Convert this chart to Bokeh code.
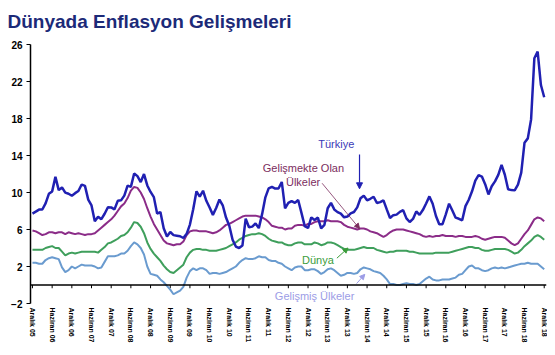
from bokeh.plotting import figure
from bokeh.models import (FixedTicker, Span, Label, Arrow, NormalHead, ColumnDataSource)
from bokeh.embed import file_html
from bokeh.resources import INLINE

# Month index 0 = Aralık 2005 ... 156 = Aralık 2018
tick_labels = ["Aralık 05", "Haziran 06", "Aralık 06", "Haziran 07", "Aralık 07",
               "Haziran 08", "Aralık 08", "Haziran 09", "Aralık 09", "Haziran 10",
               "Aralık 10", "Haziran 11", "Aralık 11", "Haziran 12", "Aralık 12",
               "Haziran 13", "Aralık 13", "Haziran 14", "Aralık 14", "Haziran 15",
               "Aralık 15", "Haziran 16", "Aralık 16", "Haziran 17", "Aralık 17",
               "Haziran 18", "Aralık 18"]
y_ticks = [-2, 2, 6, 10, 14, 18, 22, 26]

turkiye = [7.72,
    7.93, 8.15, 8.16, 8.83, 9.86, 10.12, 11.69, 10.26, 10.55, 9.98, 9.86, 9.65,
    9.93, 10.16, 10.86, 10.72, 9.23, 8.60, 6.90, 7.39, 7.12, 7.70, 8.40, 8.39,
    8.17, 9.10, 9.15, 9.66, 10.74, 10.61, 12.06, 11.77, 11.13, 11.99, 10.76, 10.06,
    9.50, 7.73, 7.89, 6.13, 5.24, 5.73, 5.39, 5.33, 5.27, 5.08, 5.53, 6.53,
    8.19, 10.13, 9.56, 10.19, 9.10, 8.37, 7.58, 8.33, 9.24, 8.62, 7.29, 6.40,
    4.90, 4.16, 3.99, 4.26, 7.17, 6.24, 6.31, 6.65, 6.15, 7.66, 9.48, 10.45,
    10.61, 10.43, 10.43, 11.14, 8.28, 8.87, 9.07, 8.88, 9.19, 7.80, 6.37, 6.16,
    7.31, 7.03, 7.29, 6.13, 6.51, 8.30, 8.88, 8.17, 7.88, 7.71, 7.32, 7.40,
    7.75, 7.89, 8.39, 9.38, 9.66, 9.16, 9.32, 9.54, 8.86, 8.96, 9.15, 8.17,
    7.24, 7.55, 7.61, 7.91, 8.09, 7.20, 6.81, 7.14, 7.95, 7.58, 8.10, 8.81,
    9.58, 8.78, 7.46, 6.57, 6.58, 7.64, 8.79, 8.05, 7.28, 7.16, 7.00, 8.53,
    9.22, 10.13, 11.29, 11.87, 11.72, 10.90, 9.79, 10.68, 11.20, 11.90, 12.98, 11.92,
    10.35, 10.26, 10.23, 10.85, 12.15, 15.39, 15.85, 17.90, 24.52, 25.24, 21.62, 20.30]

gelismekte = [5.9,
    5.8, 5.6, 5.4, 5.5, 5.7, 5.7, 5.6, 5.7, 5.7, 5.5, 5.7, 5.6,
    5.5, 5.6, 5.5, 5.4, 5.5, 5.5, 5.6, 5.9, 6.2, 6.5, 6.8, 7.1,
    7.5, 8.0, 8.5, 8.8, 9.4, 10.2, 10.6, 10.5, 10.0, 9.3, 8.3, 7.4,
    6.6, 6.0, 5.4, 4.8, 4.5, 4.4, 4.3, 4.4, 4.4, 4.7, 5.4, 5.8,
    5.9, 5.9, 5.8, 5.8, 5.8, 5.7, 5.6, 5.7, 5.9, 6.2, 6.5, 6.6,
    6.8, 7.0, 7.2, 7.4, 7.5, 7.5, 7.5, 7.5, 7.4, 7.3, 7.1, 6.8,
    6.4, 6.3, 6.2, 6.2, 6.0, 6.1, 6.1, 6.4, 6.5, 6.5, 6.4, 6.6,
    6.6, 6.8, 6.9, 6.9, 6.9, 7.0, 6.9, 6.9, 6.9, 6.8, 6.5, 6.3,
    6.2, 6.1, 6.0, 6.1, 6.1, 6.0, 5.8, 5.7, 5.6, 5.4, 5.2, 5.4,
    5.7, 5.9, 6.0, 6.0, 6.0, 5.9, 5.8, 5.7, 5.6, 5.5, 5.3, 5.2,
    5.3, 5.2, 5.3, 5.3, 5.4, 5.3, 5.3, 5.3, 5.2, 5.3, 5.3, 5.2,
    5.2, 5.2, 5.3, 5.2, 5.0, 4.9, 5.0, 5.1, 5.2, 5.2, 5.2, 5.1,
    4.8, 4.5, 4.3, 4.5, 5.0, 5.5, 5.9, 6.5, 7.1, 7.3, 7.2, 6.9]

dunya = [3.8,
    3.8, 3.8, 3.8, 4.0, 4.1, 4.2, 4.0, 4.0, 3.6, 3.2, 3.4, 3.5,
    3.4, 3.5, 3.6, 3.6, 3.6, 3.6, 3.6, 3.5, 3.8, 4.1, 4.5, 4.6,
    4.8, 5.0, 5.3, 5.4, 5.7, 6.2, 6.8, 6.7, 6.3, 5.6, 4.6, 3.9,
    3.4, 3.0, 2.6, 2.1, 1.7, 1.4, 1.3, 1.6, 1.9, 2.2, 3.0, 3.5,
    3.8, 3.9, 3.9, 3.8, 3.8, 3.7, 3.7, 3.7, 3.8, 3.9, 4.0, 4.2,
    4.4, 4.6, 4.9, 5.1, 5.3, 5.4, 5.5, 5.5, 5.6, 5.5, 5.3, 5.0,
    4.8, 4.7, 4.6, 4.6, 4.4, 4.3, 4.3, 4.5, 4.6, 4.6, 4.4, 4.4,
    4.4, 4.6, 4.5, 4.3, 4.4, 4.6, 4.6, 4.5, 4.3, 4.1, 3.9, 3.8,
    3.8, 3.8, 3.9, 4.0, 4.1, 4.0, 4.0, 4.0, 3.8, 3.7, 3.6, 3.5,
    3.6, 3.6, 3.7, 3.7, 3.7, 3.7, 3.6, 3.6, 3.5, 3.4, 3.4, 3.4,
    3.4, 3.4, 3.5, 3.5, 3.5, 3.5, 3.5, 3.6, 3.7, 3.8, 3.9, 4.0,
    4.1, 4.1, 4.0, 4.0, 3.8, 3.7, 3.7, 3.8, 3.9, 3.9, 3.9, 3.9,
    3.8, 3.6, 3.4, 3.5, 3.8, 4.2, 4.5, 4.8, 5.2, 5.4, 5.2, 4.9]

gelismis = [2.4,
    2.4, 2.3, 2.3, 2.7, 2.9, 3.0, 2.9, 2.8, 1.9, 1.4, 1.6, 2.0,
    1.8, 2.0, 2.2, 2.1, 2.1, 2.1, 2.0, 1.8, 1.9, 2.5, 3.1, 3.1,
    3.1, 3.2, 3.4, 3.4, 3.7, 4.2, 4.6, 4.4, 4.0, 3.3, 2.0, 1.2,
    1.1, 1.0, 0.6, 0.3, -0.1, -0.5, -1.0, -0.8, -0.6, -0.2, 0.8, 1.5,
    1.8, 1.6, 1.8, 1.8, 1.6, 1.2, 1.3, 1.3, 1.2, 1.3, 1.4, 1.6,
    1.8, 2.0, 2.4, 2.7, 2.9, 2.8, 2.8, 2.9, 3.1, 3.0, 3.0, 2.7,
    2.6, 2.6, 2.4, 2.3, 2.0, 1.8, 1.6, 1.9, 2.0, 2.0, 1.6, 1.6,
    1.7, 1.7, 1.5, 1.2, 1.4, 1.7, 1.8, 1.6, 1.3, 1.0, 1.1, 1.3,
    1.3, 1.2, 1.3, 1.7, 1.9, 1.8, 1.7, 1.5, 1.4, 1.3, 1.0, 0.6,
    0.1, 0.1, 0.0, 0.0, 0.1, 0.2, 0.1, 0.1, 0.0, 0.1, 0.4, 0.7,
    0.9, 0.6, 0.5, 0.5, 0.6, 0.6, 0.6, 0.7, 0.8, 1.1, 1.2, 1.6,
    2.0, 2.1, 1.8, 1.8, 1.6, 1.5, 1.6, 1.8, 1.9, 1.8, 1.9, 1.8,
    1.9, 2.0, 2.1, 2.2, 2.3, 2.3, 2.4, 2.3, 2.3, 2.3, 2.0, 1.7]

months = list(range(len(turkiye)))
tick_pos = [6 * i for i in range(len(tick_labels))]

FONT = "Liberation Sans"

p = figure(width=547, height=345, output_backend="svg", toolbar_location=None,
           x_range=(-0.6, 156.7), y_range=(-2, 26),
           min_border_left=30, min_border_right=1, min_border_bottom=42,
           min_border_top=0)
p.outline_line_color = None
p.grid.visible = False
p.background_fill_color = "white"
p.border_fill_color = "white"

# title: anchored at the top of its panel; the standoff sets the frame's top
p.title.text = "Dünyada Enflasyon Gelişmeleri"
p.title.text_font = FONT
p.title.text_font_size = "19px"
p.title.text_font_style = "bold"
p.title.text_color = "#1c2a78"
p.title.align = "left"
p.title.offset = -23
p.title.vertical_align = "top"
p.title.standoff = 21

# y axis
p.yaxis.ticker = FixedTicker(ticks=y_ticks)
p.yaxis.bounds = (y_ticks[0], y_ticks[-1])
p.yaxis.major_label_text_font = FONT
p.yaxis.major_label_text_font_size = "10px"
p.yaxis.major_label_text_font_style = "bold"
p.yaxis.major_label_text_color = "black"
p.yaxis.axis_line_color = "black"
p.yaxis.axis_line_width = 1.5
p.yaxis.major_tick_line_color = "black"
p.yaxis.major_tick_out = 4
p.yaxis.major_tick_in = 0
p.yaxis.minor_tick_line_color = None
p.yaxis.major_label_standoff = 4

# x axis (labels only; the line is drawn at zero)
p.xaxis.ticker = FixedTicker(ticks=tick_pos)
p.xaxis.major_label_overrides = {t: lab for t, lab in zip(tick_pos, tick_labels)}
p.xaxis.major_label_orientation = "vertical"
p.xaxis.major_label_text_font = FONT
p.xaxis.major_label_text_font_size = "7px"
p.xaxis.major_label_text_font_style = "bold"
p.xaxis.major_label_text_color = "black"
p.xaxis.axis_line_color = None
p.xaxis.major_tick_line_color = None
p.xaxis.major_tick_out = 0
p.xaxis.major_tick_in = 0
p.xaxis.minor_tick_line_color = None
p.xaxis.minor_tick_out = 0
p.xaxis.major_label_standoff = 4

p.add_layout(Span(location=0, dimension="width", line_color="black", line_width=1.5))
p.segment(x0=tick_pos, y0=[0] * len(tick_pos), x1=tick_pos, y1=[-0.35] * len(tick_pos),
          line_color="black", line_width=1)

src = ColumnDataSource(dict(m=months, tr=turkiye, em=gelismekte, w=dunya, adv=gelismis))
p.line("m", "adv", source=src, line_color="#6a9bcf", line_width=2)
p.line("m", "w", source=src, line_color="#3f9f5c", line_width=2)
p.line("m", "em", source=src, line_color="#8b2c88", line_width=2)
p.line("m", "tr", source=src, line_color="#2020b2", line_width=2.5)

# annotations
def lab(x, y, text, color):
    p.add_layout(Label(x=x, y=y, text=text, text_color=color, text_font=FONT,
                       text_font_size="11px", text_align="center",
                       text_baseline="middle"))

lab(92.6, 15.2, "Türkiye", "#3b3bb8")
lab(82.6, 12.6, "Gelişmekte Olan", "#7b2d5e")
lab(82.5, 11.1, "Ülkeler", "#7b2d5e")
lab(87.0, 2.65, "Dünya", "#3a9c3a")
lab(86.0, -1.15, "Gelişmiş Ülkeler", "#9c9ce6")

p.add_layout(Arrow(x_start=99.7, y_start=14.1, x_end=99.7, y_end=10.4,
                   line_color="#2020b2", line_width=1.2,
                   end=NormalHead(size=6, fill_color="#2020b2", line_color="#2020b2")))
p.add_layout(Arrow(x_start=88.3, y_start=11.0, x_end=99.7, y_end=6.1,
                   line_color="#7b2d5e", line_width=0.8,
                   end=NormalHead(size=5, fill_color="#7b2d5e", line_color="#7b2d5e")))
p.add_layout(Arrow(x_start=92.8, y_start=2.9, x_end=96.2, y_end=4.0,
                   line_color="#3a9c3a", line_width=1,
                   end=NormalHead(size=5, fill_color="#3a9c3a", line_color="#3a9c3a")))
p.add_layout(Arrow(x_start=98.8, y_start=0.15, x_end=101.3, y_end=1.15,
                   line_color="#9c9ce6", line_width=1,
                   end=NormalHead(size=5, fill_color="#9c9ce6", line_color="#9c9ce6")))

open("out.html", "w").write(file_html(p, INLINE))
